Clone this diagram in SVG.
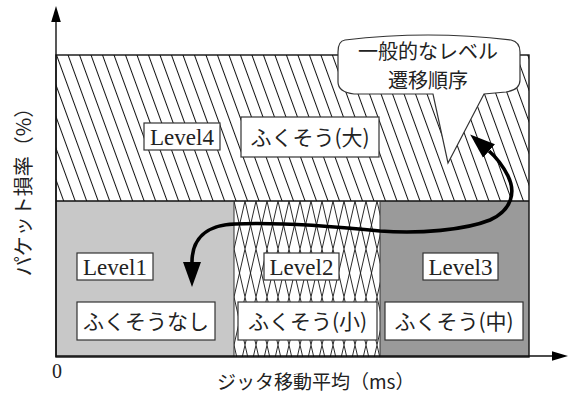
<svg xmlns="http://www.w3.org/2000/svg" width="571" height="395" viewBox="0 0 571 395">
<style>
.box{fill:#fff;stroke:#333;stroke-width:1.2}
.lv{font-family:"Liberation Serif",serif;font-size:23px;fill:#222;text-anchor:middle}
.jp{font-family:"Noto Sans CJK JP",sans-serif;font-size:21px;fill:#222;text-anchor:middle}
.jc{font-family:"Noto Sans CJK JP",sans-serif;font-size:20px;fill:#222;text-anchor:middle}
.ax{stroke:#111;stroke-width:1.4;fill:none}
</style>
<defs>
<pattern id="hatch4" patternUnits="userSpaceOnUse" x="56" y="55" width="10.8" height="40" patternTransform="rotate(-20 56 55)">
<rect width="10.8" height="40" fill="#fff"/>
<line x1="0.5" y1="0" x2="0.5" y2="40" stroke="#111" stroke-width="1"/>
</pattern>
<pattern id="hatch2" patternUnits="userSpaceOnUse" x="234" y="201" width="11" height="48">
<rect width="11" height="48" fill="#fff"/>
<line x1="0" y1="0" x2="11" y2="48" stroke="#111" stroke-width="0.9"/>
<line x1="11" y1="0" x2="0" y2="48" stroke="#111" stroke-width="0.9"/>
</pattern>
<marker id="head" markerUnits="userSpaceOnUse" markerWidth="26" markerHeight="20" refX="0" refY="9" orient="auto-start-reverse" viewBox="0 0 26 18">
<path d="M0,0 L25,9 L0,18 Z" fill="#000"/>
</marker>
<marker id="axhead" markerUnits="userSpaceOnUse" markerWidth="16" markerHeight="10" refX="0" refY="4.5" orient="auto" viewBox="0 0 15 9">
<path d="M0,0 L15,4.5 L0,9 Z" fill="#000"/>
</marker>
</defs>

<g id="level4">
<rect x="56" y="55" width="473" height="146" fill="url(#hatch4)"/>
</g>
<g id="level1">
<rect x="56" y="201" width="178" height="156" fill="#c8c8c8"/>
</g>
<g id="level2">
<rect x="234" y="201" width="146" height="156" fill="url(#hatch2)"/>
</g>
<g id="level3">
<rect x="380" y="201" width="149" height="156" fill="#9a9a9a"/>
</g>
<g id="frame">
<rect x="56" y="55" width="473" height="302" fill="none" stroke="#111" stroke-width="1.4"/>
<line x1="56" y1="201" x2="529" y2="201" stroke="#111" stroke-width="1.4"/>
<line x1="234" y1="201" x2="234" y2="357" stroke="#333" stroke-width="1"/>
<line x1="380" y1="201" x2="380" y2="357" stroke="#333" stroke-width="1"/>
</g>

<g id="axes">
<line class="ax" x1="56" y1="357" x2="56" y2="22" marker-end="url(#axhead)"/>
<line class="ax" x1="56" y1="356" x2="552" y2="356" marker-end="url(#axhead)"/>
</g>

<g id="label-level4">
<rect class="box" x="144" y="123" width="76" height="27"/>
<text class="lv" x="182" y="145">Level4</text>
</g>
<g id="label-large">
<rect class="box" x="241" y="117" width="138" height="40"/>
<text class="jp" x="310" y="145">ふくそう(大)</text>
</g>
<g id="label-level1">
<rect class="box" x="77" y="253" width="76" height="27"/>
<text class="lv" x="115" y="275">Level1</text>
</g>
<g id="label-none">
<rect class="box" x="77" y="302" width="138" height="38"/>
<text class="jp" x="146" y="329">ふくそうなし</text>
</g>
<g id="label-level2">
<rect class="box" x="264" y="253" width="75" height="27"/>
<text class="lv" x="301.5" y="275">Level2</text>
</g>
<g id="label-small">
<rect class="box" x="238" y="302" width="139" height="38"/>
<text class="jp" x="307.5" y="329">ふくそう(小)</text>
</g>
<g id="label-level3">
<rect class="box" x="423" y="253" width="75" height="27"/>
<text class="lv" x="460.5" y="275">Level3</text>
</g>
<g id="label-medium">
<rect class="box" x="385" y="302" width="138" height="38"/>
<text class="jp" x="454" y="329">ふくそう(中)</text>
</g>

<g id="connectors">
<path d="M192,262 C192,240 205,225 235,224 C280,222 330,226 380,231 C420,234 465,230 490,220 C512,210 516,192 508,176 C503,166 497,158 489,151" fill="none" stroke="#000" stroke-width="3.6" marker-start="url(#head)" marker-end="url(#head)"/>
</g>

<g id="callout">
<path d="M345,40 Q428,30 511,40 Q520,42 520,52 L520,80 Q520,90 506,92 L484,94 L448,163 L433,94 L354,94 Q338,92 338,82 L338,52 Q338,41 345,40 Z" fill="#fff" stroke="#333" stroke-width="1.2"/>
<text class="jc" x="428" y="59">一般的なレベル</text>
<text class="jc" x="428" y="88">遷移順序</text>
</g>

<g id="axis-labels">
<text x="57" y="378" font-family="Liberation Serif, serif" font-size="20" fill="#222" text-anchor="middle">0</text>
<text x="217" y="389" font-family="Noto Sans CJK JP, sans-serif" font-size="19" fill="#222">ジッタ移動平均（ms）</text>
<text transform="translate(31,187) rotate(-90)" font-family="Noto Sans CJK JP, sans-serif" font-size="20" fill="#222" text-anchor="middle">パケット損率（%）</text>
</g>
</svg>
